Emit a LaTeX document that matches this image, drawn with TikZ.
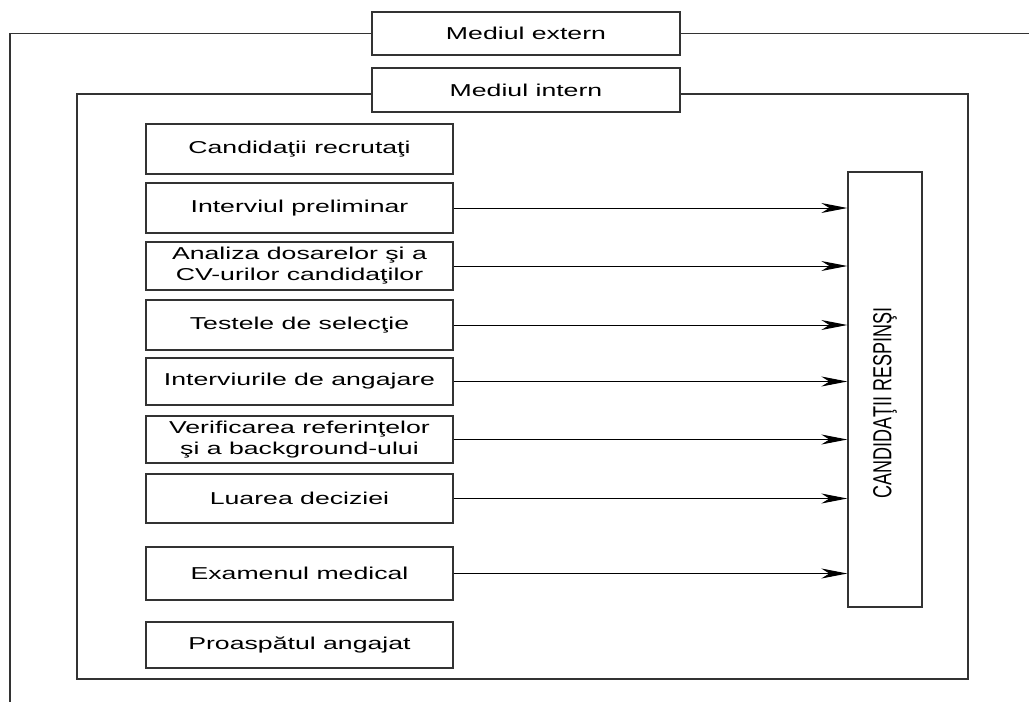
\documentclass[tikz,border=0pt]{standalone}
\usepackage{fontspec}
\setmainfont[FakeStretch=1.55]{Liberation Sans}
\newfontfamily\narrowf{Liberation Sans}
\usetikzlibrary{arrows.meta}
\begin{document}
\begin{tikzpicture}[x=1pt,y=-1pt,
  frame/.style={draw=black!80,line width=1.3pt},
  stepbox/.style={draw=black!80,line width=1.3pt,minimum width=307pt,inner sep=0pt,align=center,font=\fontsize{17.2}{21}\selectfont},
  topbox/.style={draw=black!80,line width=1.3pt,fill=white,minimum width=308pt,inner sep=0pt,font=\fontsize{17.2}{21}\selectfont},
  arr/.style={draw=black,line width=1pt,-{Stealth[length=26pt,width=10pt,inset=8pt]}}]
\useasboundingbox (0,0) rectangle (1029,702);
% top labels
\node[topbox,minimum height=43pt] (ext) at (526,33.5) {Mediul extern};
\node[topbox,minimum height=44pt] (int) at (526,90) {Mediul intern};
% frames
\draw[frame] (ext.west) -- (10,33.5) -- (10,702);
\draw[frame] (ext.east) -- (1029,33.5);
\draw[frame] (int.west|-0,94) -- (77,94) -- (77,679) -- (968,679) -- (968,94) -- (int.east|-0,94);
% step boxes
\node[stepbox,minimum height=50pt] (b1) at (299.5,149) {Candidaţii recrutaţi};
\node[stepbox,minimum height=50pt] (b2) at (299.5,208) {Interviul preliminar};
\node[stepbox,minimum height=48pt] (b3) at (299.5,266) {Analiza dosarelor şi a\\CV-urilor candidaţilor};
\node[stepbox,minimum height=50pt] (b4) at (299.5,325) {Testele de selecţie};
\node[stepbox,minimum height=47pt] (b5) at (299.5,381.5) {Interviurile de angajare};
\node[stepbox,minimum height=47pt] (b6) at (299.5,439.5) {Verificarea referinţelor\\şi a background-ului};
\node[stepbox,minimum height=49pt] (b7) at (299.5,498.5) {Luarea deciziei};
\node[stepbox,minimum height=53pt] (b8) at (299.5,573.5) {Examenul medical};
\node[stepbox,minimum height=46pt] (b9) at (299.5,645) {Proaspătul angajat};
% rejected box
\node[draw=black!80,line width=1.3pt,minimum width=74pt,minimum height=435pt,inner sep=0pt] (r) at (885,389.5) {};
\node[rotate=90,inner sep=0pt] (rt) at ([yshift=-13pt]r.center) {\scalebox{1}[1.45]{\narrowf\fontsize{18}{20}\selectfont CANDIDAŢII RESPINŞI}};
% arrows
\foreach \b in {b2,b3,b4,b5,b6,b7,b8}
  \draw[arr] (\b.east) -- (\b.east -| r.west);
\end{tikzpicture}
\end{document}
